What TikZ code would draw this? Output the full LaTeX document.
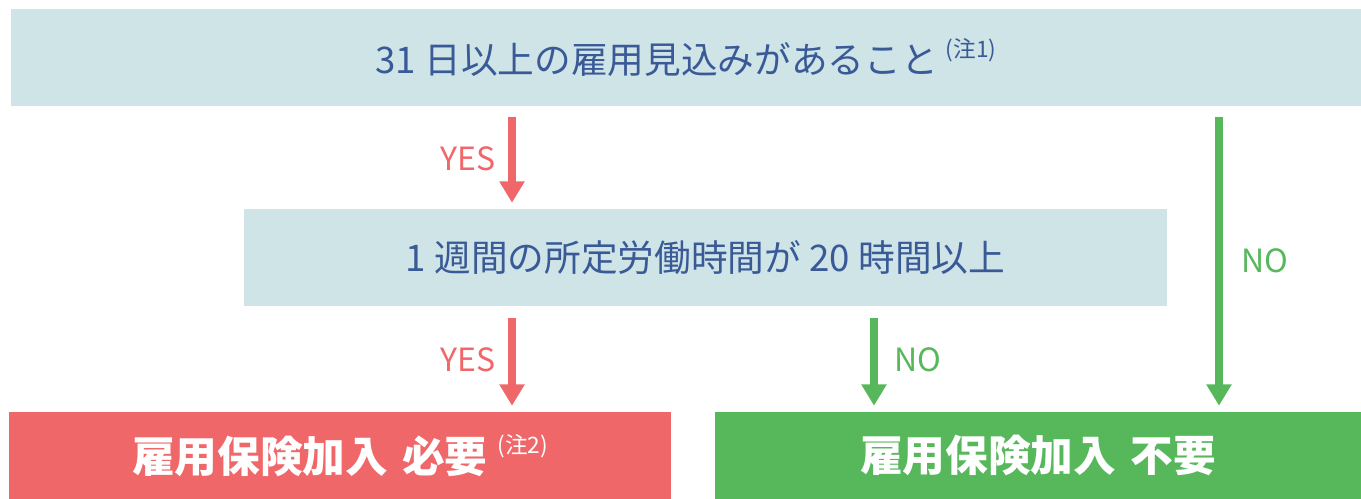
\documentclass[tikz,border=0pt]{standalone}
\usepackage{fontspec}
\setmainfont{Noto Sans CJK JP}
\usetikzlibrary{arrows.meta}
\definecolor{boxblue}{HTML}{CFE4E7}
\definecolor{textblue}{HTML}{3A5A97}
\definecolor{yesred}{HTML}{F0676A}
\definecolor{nogreen}{HTML}{57B85B}
\tikzset{
  askbox/.style={fill=boxblue, text=textblue, inner sep=0pt, font=\fontsize{27.5}{27.5}\selectfont},
  endbox/.style={inner sep=0pt, text=white, font=\fontsize{32}{32}\selectfont\bfseries},
  yesarrow/.style={draw=yesred, line width=6pt, -{Triangle[width=18pt,length=16pt]}},
  noarrow/.style={draw=nogreen, line width=6pt, -{Triangle[width=18pt,length=16pt]}},
  yeslabel/.style={text=yesred, font=\fontsize{24}{24}\selectfont},
  nolabel/.style={text=nogreen, font=\fontsize{24}{24}\selectfont}
}
\newcommand{\chu}[1]{\raisebox{0.45em}{\fontsize{17}{17}\selectfont\mdseries (注#1)}}
\begin{document}
\begin{tikzpicture}[x=0.75pt, y=-0.75pt]
  \useasboundingbox (0,0) rectangle (1361,499);
  % question boxes
  \node[askbox, minimum width=1350*0.75pt, minimum height=97*0.75pt] (q1) at (686,57.5) {31 日以上の雇用見込みがあること \chu{1}};
  \node[askbox, minimum width=923*0.75pt, minimum height=97*0.75pt] (q2) at (705.5,257.5) {1 週間の所定労働時間が 20 時間以上};
  % results
  \node[endbox, fill=yesred, minimum width=662*0.75pt, minimum height=87*0.75pt] (need) at (340,455.5) {雇用保険加入\,\,必要 \chu{2}};
  \node[endbox, fill=nogreen, minimum width=646*0.75pt, minimum height=87*0.75pt] (noneed) at (1038,455.5) {雇用保険加入\,\,不要};
  % arrows
  \draw[yesarrow, shorten <=11*0.75pt, shorten >=6*0.75pt] (q1.south -| 512,0) -- (q2.north -| 512,0);
  \draw[yesarrow, shorten <=12*0.75pt, shorten >=6*0.75pt] (q2.south -| 512,0) -- (need.north -| 512,0);
  \draw[noarrow, shorten <=12*0.75pt, shorten >=6*0.75pt] (q2.south -| 874,0) -- (noneed.north -| 874,0);
  \draw[noarrow, shorten <=11*0.75pt, shorten >=6*0.75pt] (q1.south -| 1219,0) -- (noneed.north -| 1219,0);
  \node[yeslabel] (yes1) at (468,159) {YES};
  \node[yeslabel] (yes2) at (468,360) {YES};
  \node[nolabel] (no1) at (918,360) {NO};
  \node[nolabel] (no2) at (1265,261) {NO};
\end{tikzpicture}
\end{document}
